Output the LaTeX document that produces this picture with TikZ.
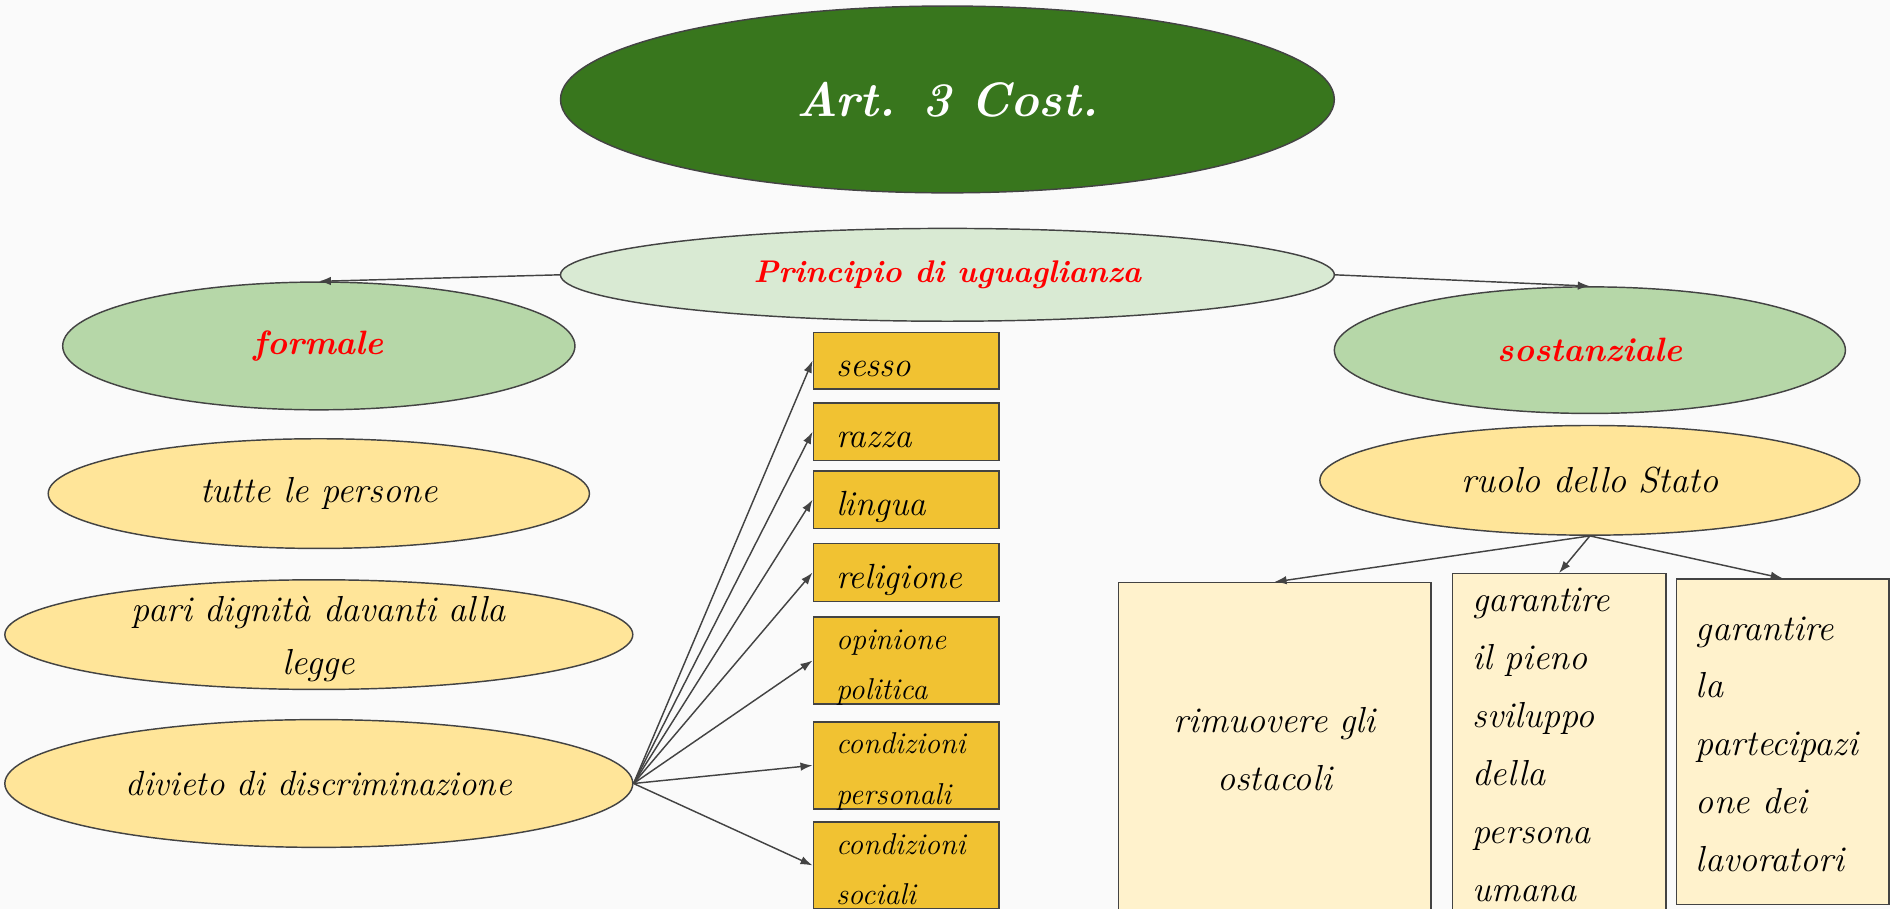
\documentclass[tikz,border=0pt]{standalone}
\usepackage{xcolor}
\usepackage{tikz}
\usetikzlibrary{shapes.geometric,arrows.meta}
\definecolor{bggray}{HTML}{FAFAFA}
\definecolor{edgegray}{HTML}{434343}
\definecolor{artgreen}{HTML}{38761D}
\definecolor{palegreen}{HTML}{D9EAD3}
\definecolor{midgreen}{HTML}{B6D7A8}
\definecolor{paleyellow}{HTML}{FFE599}
\definecolor{gold}{HTML}{F1C232}
\definecolor{cream}{HTML}{FFF2CC}
\newcommand*{\hand}[2]{\fontsize{#1}{#2}\selectfont\itshape}

\begin{document}
\begin{tikzpicture}[x=1pt, y=-1pt, line width=1.2pt, >={Latex[length=10pt, width=7pt]},
    every node/.style={draw=edgegray, inner sep=0pt},
    ell/.style={ellipse, font=\hand{30}{44}},
    redtext/.style={text=red, font=\bfseries\hand{28}{40}},
    chip/.style={rectangle, fill=gold, minimum height=48pt, inner xsep=19pt, text width=116pt, align=left, text height=30pt, text depth=4pt, font=\hand{29}{42}},
    chiptwo/.style={chip, minimum height=72pt, text height=24pt, text depth=43pt, font=\hand{25}{42}},
    pillar/.style={rectangle, fill=cream, inner xsep=17pt, align=left, text height=22pt, font=\hand{30}{48}},
    link/.style={->, draw=edgegray}]

    \useasboundingbox (0,0) rectangle (1568,754);
    \fill[bggray] (0,0) rectangle (1568,754);

    \node[ell, fill=artgreen, minimum width=642pt, minimum height=155pt, text=white, font=\bfseries\hand{40}{48}] (art) at (786,82.5) {Art. 3 Cost.};
    \node[ell, fill=palegreen, minimum width=642pt, minimum height=77pt, redtext, font=\bfseries\hand{26}{40}] (principio) at (786,228) {Principio di uguaglianza};
    \node[ell, fill=midgreen, minimum width=425pt, minimum height=106pt, redtext] (formale) at (264.5,287) {formale};
    \node[ell, fill=midgreen, minimum width=424pt, minimum height=105pt, redtext] (sostanziale) at (1319,290.5) {sostanziale};

    \node[ell, fill=paleyellow, minimum width=449pt, minimum height=91pt] (persone) at (264.5,409.5) {tutte le persone};
    \node[ell, fill=paleyellow, minimum width=521pt, minimum height=91pt, label={[draw=none, align=center, font=\hand{30}{44}, yshift=-4pt]center:{pari dignità davanti alla\\legge}}] (dignita) at (264.5,526.5) {};
    \node[ell, fill=paleyellow, minimum width=521pt, minimum height=106pt, font=\hand{29}{44}] (divieto) at (264.5,650) {divieto di discriminazione};
    \node[ell, fill=paleyellow, minimum width=448pt, minimum height=91pt] (ruolo) at (1319,398.5) {ruolo dello Stato};

    \node[chip, minimum height=47pt] (sesso) at (751.7,299.2) {sesso};
    \node[chip] (razza) at (751.7,358.2) {razza};
    \node[chip] (lingua) at (751.7,414.6) {lingua};
    \node[chip] (religione) at (751.7,475) {religione};
    \node[chiptwo] (opinione) at (751.7,548) {opinione\\politica};
    \node[chiptwo] (personali) at (751.7,635) {condizioni\\personali};
    \node[chiptwo] (sociali) at (751.7,718) {condizioni\\sociali};

    \node[pillar, align=center, inner xsep=18pt, text width=223.3pt, minimum height=273.6pt, text depth=46.4pt] (rimuovere) at (1057.4,620.2) {rimuovere gli\\ostacoli};
    \node[pillar, text width=143.2pt, minimum height=288pt, text depth=247pt] (sviluppo) at (1293.4,620) {garantire\\il pieno\\sviluppo\\della\\persona\\umana};
    \node[pillar, inner xsep=16pt, text width=144pt, minimum height=269.8pt, text depth=190.6pt] (partecipazione) at (1479,615.3) {garantire\\la\\partecipazi\\one dei\\lavoratori};

    \draw[link] (principio.west) -- (formale.north);
    \draw[link] (principio.east) -- (sostanziale.north);
    \foreach \target in {sesso,razza,lingua,religione,opinione,personali,sociali}
        \draw[link] (divieto.east) -- (\target.west);
    \foreach \target in {rimuovere,sviluppo,partecipazione}
        \draw[link] (ruolo.south) -- (\target.north);

\end{tikzpicture}
\end{document}
